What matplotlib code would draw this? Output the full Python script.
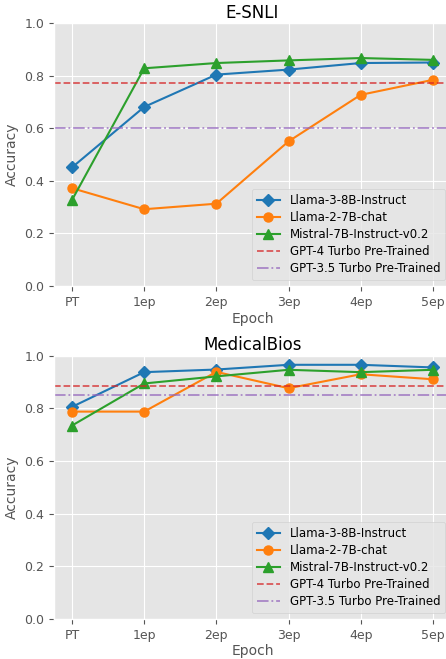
import matplotlib
matplotlib.use("Agg")
import matplotlib.pyplot as plt

plt.style.use("ggplot")
plt.rcParams["font.size"] = 9

epochs = ["PT", "1ep", "2ep", "3ep", "4ep", "5ep"]

# E-SNLI
esnli_llama3 = [0.451, 0.681, 0.804, 0.823, 0.848, 0.850]
esnli_llama2 = [0.372, 0.292, 0.313, 0.550, 0.727, 0.784]
esnli_mistral = [0.327, 0.828, 0.848, 0.858, 0.867, 0.860]
esnli_gpt4 = 0.771
esnli_gpt35 = 0.601

# MedicalBios
med_llama3 = [0.806, 0.938, 0.948, 0.966, 0.966, 0.956]
med_llama2 = [0.788, 0.788, 0.939, 0.877, 0.930, 0.911]
med_mistral = [0.735, 0.895, 0.922, 0.947, 0.938, 0.947]
med_gpt4 = 0.886
med_gpt35 = 0.850

panels = [
    ("E-SNLI", esnli_llama3, esnli_llama2, esnli_mistral, esnli_gpt4, esnli_gpt35),
    ("MedicalBios", med_llama3, med_llama2, med_mistral, med_gpt4, med_gpt35),
]

fig = plt.figure(figsize=(4.46, 6.59), dpi=100)
positions = [[0.121, 0.566, 0.890, 0.399], [0.121, 0.061, 0.890, 0.399]]

for pos, (title, l3, l2, mi, g4, g35) in zip(positions, panels):
    ax = fig.add_axes(pos)
    x = range(len(epochs))
    ax.plot(x, l3, marker="D", markersize=6.5, color="tab:blue", label="Llama-3-8B-Instruct")
    ax.plot(x, l2, marker="o", markersize=6.5, color="tab:orange", label="Llama-2-7B-chat")
    ax.plot(x, mi, marker="^", markersize=6.5, color="tab:green", label="Mistral-7B-Instruct-v0.2")
    ax.axhline(g4, color="tab:red", linestyle="--", linewidth=1.3, alpha=0.75,
               label="GPT-4 Turbo Pre-Trained")
    ax.axhline(g35, color="tab:purple", linestyle="-.", linewidth=1.3, alpha=0.75,
               label="GPT-3.5 Turbo Pre-Trained")
    ax.set_xticks(list(x))
    ax.set_xticklabels(epochs)
    ax.tick_params(labelsize=9)
    ax.set_ylim(0, 1.0)
    ax.set_title(title, color="black", fontsize=12, pad=4)
    ax.set_xlabel("Epoch", fontsize=10, labelpad=2)
    ax.set_ylabel("Accuracy", fontsize=10)
    ax.legend(loc="lower right", fontsize=8.5, labelspacing=0.35)

fig.savefig("out.png", dpi=100)
